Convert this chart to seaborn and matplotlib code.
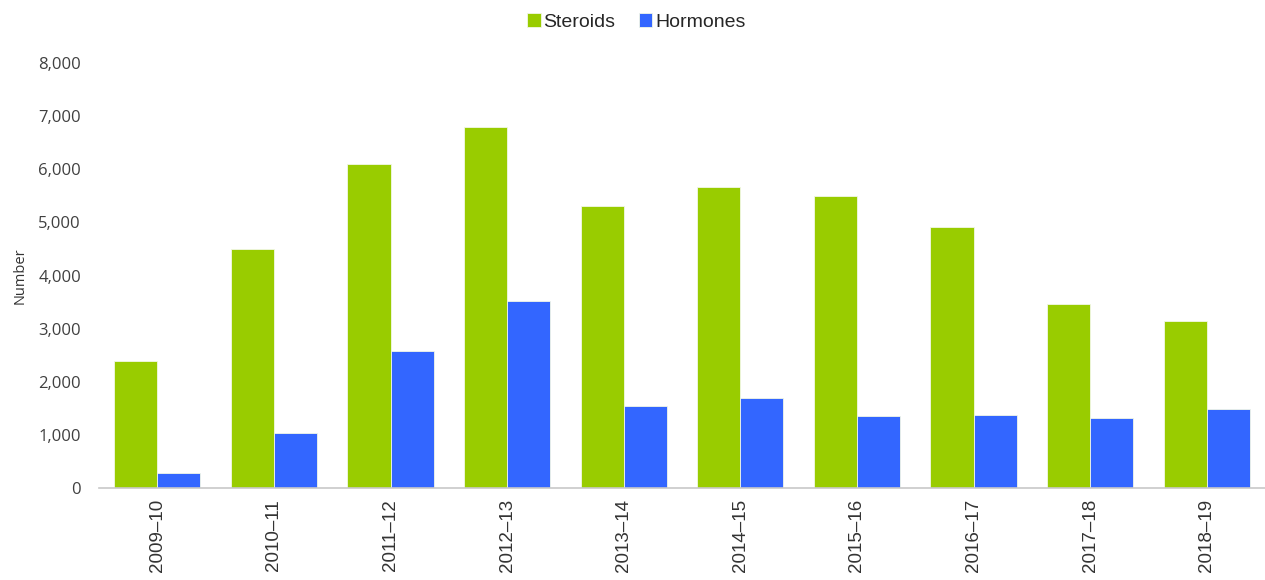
import matplotlib
matplotlib.use("Agg")
import matplotlib.pyplot as plt
import seaborn as sns
import pandas as pd
from matplotlib.ticker import FuncFormatter

years = ["2009–10", "2010–11", "2011–12", "2012–13", "2013–14",
         "2014–15", "2015–16", "2016–17", "2017–18", "2018–19"]
steroids = [2390, 4490, 6100, 6790, 5310, 5660, 5500, 4905, 3455, 3140]
hormones = [290, 1040, 2580, 3520, 1545, 1700, 1355, 1380, 1325, 1480]
series = ["Steroids", "Hormones"]
colors = ["#99CC00", "#3366FF"]

df = pd.DataFrame({
    "Year": years * 2,
    "Series": [series[0]] * len(years) + [series[1]] * len(years),
    "Number": steroids + hormones,
})

sns.set_style("white")
plt.rcParams["font.family"] = ["Liberation Sans", "DejaVu Sans"]

fig = plt.figure(figsize=(12.65, 5.8), dpi=100)
ax = fig.add_axes([0.0783, 0.1586, 0.9217, 0.7328])

sns.barplot(data=df, x="Year", y="Number", hue="Series", order=years,
            hue_order=series, palette=colors, width=0.74, gap=0,
            edgecolor="#f2f7e6", linewidth=0.6, saturation=1, ax=ax)

ax.set_ylim(0, 8000)
ax.set_xlim(-0.5, len(years) - 0.5)
ax.set_yticks(range(0, 8001, 1000))
ax.yaxis.set_major_formatter(FuncFormatter(lambda v, p: f"{int(v):,}"))
for lbl in ax.get_yticklabels():
    lbl.set_fontfamily("Open Sans")
    lbl.set_fontsize(12)
    lbl.set_color("#404040")
ax.tick_params(axis="y", length=0, pad=13)
ax.tick_params(axis="x", length=0, pad=8, labelsize=13.5, labelcolor="#333333")
plt.setp(ax.get_xticklabels(), rotation=90)

ax.set_xlabel("")
ax.set_ylabel("Number", fontfamily="Open Sans", fontsize=10.5, color="#333333", labelpad=8)

for side in ["top", "right", "left"]:
    ax.spines[side].set_visible(False)
ax.spines["bottom"].set_color("#c8c8c8")
ax.spines["bottom"].set_linestyle((0, (2, 1)))
ax.spines["bottom"].set_linewidth(1.2)

handles, labels = ax.get_legend_handles_labels()
ax.legend_.remove()
fig.legend(handles, labels, loc="center", bbox_to_anchor=(0.503, 0.962),
           ncol=2, frameon=False, fontsize=14, handlelength=0.7,
           handleheight=0.7, handletextpad=0.15, columnspacing=1.2)

fig.savefig("out.png", dpi=100)
